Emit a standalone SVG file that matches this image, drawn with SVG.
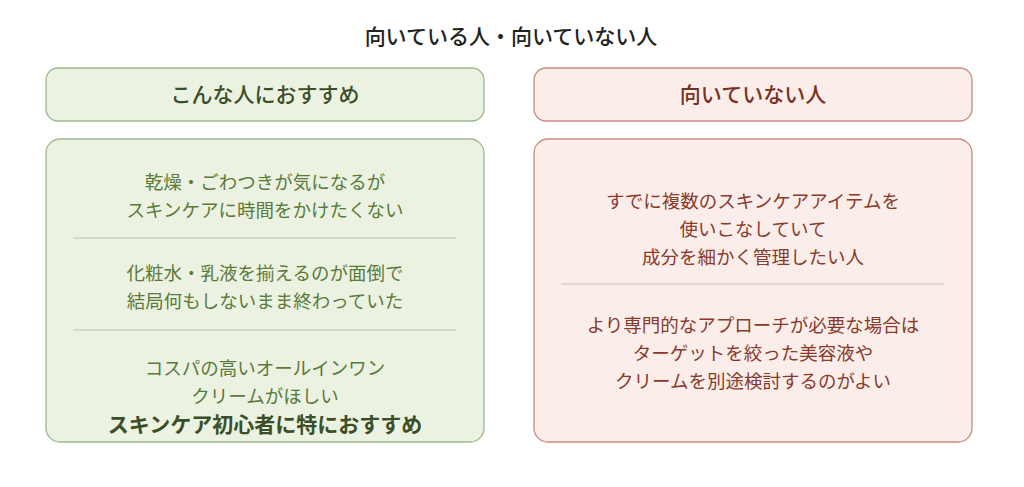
<svg xmlns="http://www.w3.org/2000/svg" width="1024" height="487" viewBox="0 0 1024 487">
<style>
text{font-family:"Noto Sans CJK JP",sans-serif;text-anchor:middle}
.g{fill:#ebf2e1;stroke:#9fb98a;stroke-width:1.3}
.r{fill:#fbeeea;stroke:#c98c80;stroke-width:1.3}
.gt{fill:#5a7a3a;font-size:18.5px}
.rt{fill:#8a3a2a;font-size:18.5px}
.gh{fill:#3a4f28;font-size:21px;font-weight:500}
.rh{fill:#7a3020;font-size:21px;font-weight:500}
.gl{stroke:#c8d4bc;stroke-width:1.3}
.rl{stroke:#ddcfca;stroke-width:1.3}
</style>
<rect width="1024" height="487" fill="#fff"/>
<text x="511" y="44" font-size="21" font-weight="500" fill="#222">向いている人・向いていない人</text>
<g id="good-head"><rect class="g" x="46" y="68" width="438" height="53" rx="12"/><text class="gh" x="265" y="102">こんな人におすすめ</text></g>
<g id="bad-head"><rect class="r" x="534" y="68" width="438" height="53" rx="12"/><text class="rh" x="753" y="102">向いていない人</text></g>
<g id="good-body"><rect class="g" x="46" y="139" width="438" height="303" rx="14"/>
<text class="gt" x="265" y="189">乾燥・ごわつきが気になるが</text>
<text class="gt" x="265" y="217">スキンケアに時間をかけたくない</text>
<line class="gl" x1="73" y1="238" x2="456" y2="238"/>
<text class="gt" x="265" y="280">化粧水・乳液を揃えるのが面倒で</text>
<text class="gt" x="265" y="308">結局何もしないまま終わっていた</text>
<line class="gl" x1="73" y1="330" x2="456" y2="330"/>
<text class="gt" x="265" y="375">コスパの高いオールインワン</text>
<text class="gt" x="265" y="403">クリームがほしい</text>
<text x="265" y="432" font-size="21" font-weight="700" fill="#3a4f28">スキンケア初心者に特におすすめ</text>
</g>
<g id="bad-body"><rect class="r" x="534" y="139" width="438" height="303" rx="14"/>
<text class="rt" x="753" y="208">すでに複数のスキンケアアイテムを</text>
<text class="rt" x="753" y="236">使いこなしていて</text>
<text class="rt" x="753" y="264">成分を細かく管理したい人</text>
<line class="rl" x1="561" y1="284" x2="944" y2="284"/>
<text class="rt" x="753" y="332">より専門的なアプローチが必要な場合は</text>
<text class="rt" x="753" y="360">ターゲットを絞った美容液や</text>
<text class="rt" x="753" y="388">クリームを別途検討するのがよい</text>
</g>
<g id="connectors"/>
</svg>
